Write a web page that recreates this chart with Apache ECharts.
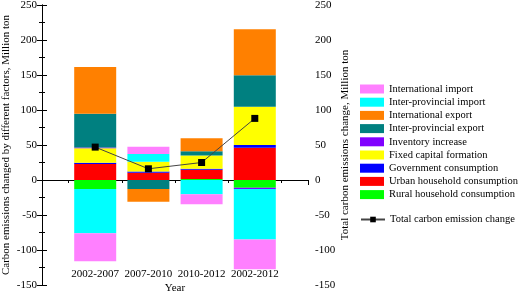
<!DOCTYPE html>
<html>
<head>
<meta charset="utf-8">
<script src="https://cdn.jsdelivr.net/npm/echarts@6/dist/echarts.min.js"></script>
<style>
  html, body { margin: 0; padding: 0; background: #fff; }
  #chart { width: 520px; height: 296px; }
</style>
</head>
<body>
<div id="chart"></div>
<script>
// Periods on the x axis
var categories = ['2002-2007', '2007-2010', '2010-2012', '2002-2012'];

// Contribution of each factor, Million ton
var rural = [-13, 0, 1.5, -11];
var urban = [23, 10.5, 13, 46];
var government = [1.5, 1.5, 1.5, 4];
var fixedCapital = [21, 14, 19, 54.5];
var inventory = [1, 0, 0, -2];
var interProvExport = [48, -13, 6, 45];
var intlExport = [67, -18, 18.5, 66];
var interProvImport = [-63, 11, -20.5, -72];
var intlImport = [-40, 10.5, -14, -42.5];

// Total change (line)
var total = [47, 16, 25, 88];

var yTicks = [-150, -100, -50, 0, 50, 100, 150, 200, 250];

var font = 'Liberation Serif';
var myChart = echarts.init(document.getElementById('chart'));

// empty slot at both ends so the periods sit at 1..4 of a 0..5 axis
function pad(arr) {
    return ['-'].concat(arr, ['-']);
}

function barSeries(name, arr, color) {
    return {
        name: name,
        type: 'bar',
        stack: 'factors',
        barWidth: 42,
        xAxisIndex: 0,
        yAxisIndex: 0,
        itemStyle: { color: color },
        data: pad(arr)
    };
}

var yAxisBase = {
    type: 'value',
    min: yTicks[0],
    max: yTicks[yTicks.length - 1],
    interval: 50,
    nameLocation: 'middle',
    nameMoveOverlap: false,
    nameTextStyle: { fontFamily: font, fontSize: 11, color: '#000' },
    axisLine: { show: true, lineStyle: { color: '#000', width: 1 } },
    axisTick: { show: true, length: 5, lineStyle: { color: '#000' } },
    minorTick: { show: true, splitNumber: 2, length: 3, lineStyle: { color: '#000' } },
    splitLine: { show: false },
    axisLabel: { fontFamily: font, fontSize: 11, color: '#000' }
};

var option = {
    animation: false,
    grid: { left: 42, right: 212, top: 5, bottom: 11, outerBoundsMode: 'none' },
    legend: [
        {
            orient: 'vertical',
            left: 360,
            top: 83,
            padding: 0,
            itemWidth: 24,
            itemHeight: 9,
            itemGap: 1.2,
            itemTextGap: 3,
            textStyle: { fontFamily: font, fontSize: 10.5, color: '#000', lineHeight: 12 },
            data: ['International import', 'Inter-provincial import', 'International export',
                'Inter-provincial export', 'Inventory increase', 'Fixed capital formation',
                'Government consumption', 'Urban household consumption', 'Rural household consumption'].map(function (n) {
                    return { name: n, icon: 'rect' };
                })
        },
        {
            left: 360,
            top: 214,
            padding: 0,
            itemWidth: 24,
            itemHeight: 7,
            itemTextGap: 3,
            textStyle: { fontFamily: font, fontSize: 10.5, color: '#000' },
            data: ['Total carbon emission change']
        }
    ],
    xAxis: [
        {
            // category axis that carries the bars and the line
            type: 'category',
            boundaryGap: false,
            data: pad(categories).map(function (c) { return c === '-' ? '' : c; }),
            axisLine: { show: false },
            axisTick: { show: false },
            axisLabel: { show: false },
            splitLine: { show: false }
        },
        {
            // period labels near the bottom
            type: 'value',
            min: 0,
            max: 5,
            interval: 1,
            position: 'bottom',
            offset: -16,
            name: 'Year',
            nameLocation: 'middle',
            nameGap: 14,
            nameMoveOverlap: false,
            nameTextStyle: { fontFamily: font, fontSize: 11, color: '#000' },
            axisLine: { show: false, onZero: false },
            axisTick: { show: false },
            splitLine: { show: false },
            axisLabel: {
                fontFamily: font, fontSize: 11, color: '#000', margin: 0,
                formatter: function (v) { return categories[v - 1] || ''; }
            }
        },
        {
            // line at zero with ticks
            type: 'value',
            min: 0,
            max: 5,
            interval: 1,
            position: 'bottom',
            axisLine: { show: true, onZero: true, lineStyle: { color: '#000', width: 1 } },
            axisTick: { show: true, length: 5, lineStyle: { color: '#000' } },
            minorTick: { show: true, splitNumber: 2, length: 3, lineStyle: { color: '#000' } },
            axisLabel: { show: false },
            splitLine: { show: false }
        }
    ],
    yAxis: [
        Object.assign({}, yAxisBase, {
            position: 'left',
            name: 'Carbon emissions changed by different factors, Million ton',
            nameGap: 30,
            axisLabel: Object.assign({}, yAxisBase.axisLabel, { margin: 5 })
        }),
        Object.assign({}, yAxisBase, {
            position: 'right',
            name: 'Total carbon emissions change, Million ton',
            nameGap: 32,
            axisLabel: Object.assign({}, yAxisBase.axisLabel, { margin: 7 })
        })
    ],
    series: [
        barSeries('Rural household consumption', rural, '#00FF00'),
        barSeries('Urban household consumption', urban, '#FF0000'),
        barSeries('Government consumption', government, '#0000FF'),
        barSeries('Fixed capital formation', fixedCapital, '#FFFF00'),
        barSeries('Inventory increase', inventory, '#8000FF'),
        barSeries('Inter-provincial export', interProvExport, '#008080'),
        barSeries('International export', intlExport, '#FF8000'),
        barSeries('Inter-provincial import', interProvImport, '#00FFFF'),
        barSeries('International import', intlImport, '#FF80FF'),
        {
            name: 'Total carbon emission change',
            type: 'line',
            xAxisIndex: 0,
            yAxisIndex: 0,
            symbol: 'rect',
            symbolSize: 7,
            itemStyle: { color: '#000' },
            lineStyle: { color: '#444', width: 1 },
            data: pad(total),
            z: 5
        }
    ]
};

myChart.setOption(option);
</script>
</body>
</html>
